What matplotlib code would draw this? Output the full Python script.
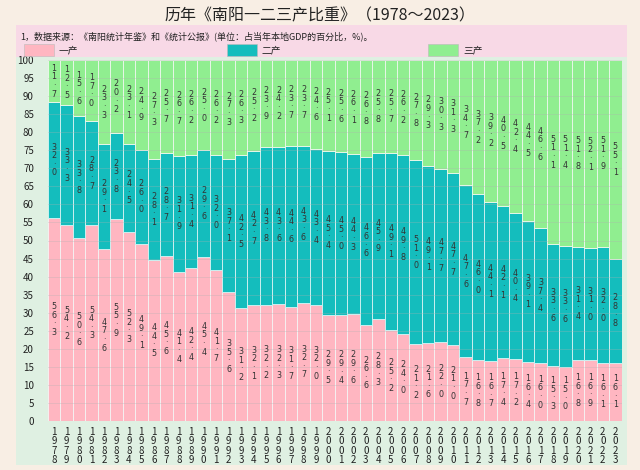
import matplotlib
matplotlib.use("Agg")
import matplotlib.pyplot as plt
from matplotlib.patches import Rectangle
import numpy as np

plt.rcParams['font.family'] = ['Noto Sans CJK SC', 'DejaVu Sans']

years = list(range(1978, 2024))
primary = [56.3, 54.2, 50.6, 54.3, 47.6, 55.9, 52.3, 49.1, 44.5, 45.6,
           41.4, 42.4, 45.4, 41.7, 35.6, 31.2, 32.1, 32.2, 32.3, 31.7,
           32.7, 32.0, 29.5, 29.4, 29.6, 26.6, 28.3, 25.2, 24.0, 21.2,
           21.6, 22.0, 21.0, 17.7, 16.8, 16.7, 17.4, 17.2, 16.4, 16.0,
           15.3, 15.0, 16.8, 16.9, 16.1, 16.1]
secondary = [32.0, 33.3, 33.8, 28.7, 29.1, 23.8, 24.5, 26.0, 28.1, 28.7,
             31.9, 31.4, 29.6, 32.0, 37.1, 42.5, 42.7, 43.8, 43.6, 44.6,
             43.6, 43.4, 45.4, 45.0, 44.3, 46.6, 45.9, 49.1, 49.8, 51.0,
             49.1, 47.7, 47.7, 47.6, 46.0, 44.1, 42.1, 40.4, 39.1, 37.4,
             33.6, 33.6, 31.4, 31.0, 32.0, 28.8]
tertiary = [11.7, 12.5, 15.6, 17.0, 23.3, 20.2, 23.1, 24.9, 27.3, 25.7,
            26.7, 26.2, 25.0, 26.2, 27.3, 26.3, 25.2, 23.9, 24.2, 23.7,
            23.7, 24.6, 25.1, 25.6, 26.1, 26.8, 25.8, 25.7, 26.2, 27.8,
            29.3, 30.3, 31.3, 34.7, 37.2, 39.2, 40.5, 42.4, 44.5, 46.6,
            51.1, 51.4, 51.8, 52.1, 51.9, 55.1]
series_names = ['一产', '二产', '三产']
colors = ['#FFB6C1', '#14BDBD', '#90EE90']

fig = plt.figure(figsize=(6.4, 4.7), dpi=100)
fig.patch.set_facecolor('#F8EEE4')

# panels
fig.add_artist(Rectangle((16/640, 1-465/470), 611/640, (465-55)/470,
                         transform=fig.transFigure, facecolor='#DFF0E2',
                         edgecolor='none', zorder=0))
fig.add_artist(Rectangle((16/640, 1-57/470), 611/640, 32/470,
                         transform=fig.transFigure, facecolor='#F8D9E6',
                         edgecolor='none', zorder=0))

fig.text(0.5, 1-16/470, '历年《南阳一二三产比重》（1978～2023）', ha='center',
         va='center', fontsize=11.5, color='#222222')
fig.text(20/640, 1-36/470,
         '1，数据来源：《南阳统计年鉴》和《统计公报》(单位：占当年本地GDP的百分比，%)。',
         ha='left', va='center', fontsize=6.5, color='#222222')

leg_x = [24, 227, 428]
for lx, name, c in zip(leg_x, series_names, colors):
    fig.add_artist(Rectangle((lx/640, 1-56/470), 30/640, 12/470,
                             transform=fig.transFigure, facecolor=c,
                             edgecolor='#bbbbbb', linewidth=0.4, zorder=1))
    fig.text((lx+35)/640, 1-50/470, name, ha='left', va='center',
             fontsize=7, color='#222222')

ax = fig.add_axes([47.8/640, 1-421/470, 573.7/640, 361/470])
ax.set_facecolor('none')
x = np.arange(len(years))
p = np.array(primary)
s = np.array(secondary)
t = np.array(tertiary)
ax.bar(x, p, width=1.0, color=colors[0], edgecolor='#f4f4f4', linewidth=0.6, zorder=2)
ax.bar(x, s, width=1.0, bottom=p, color=colors[1], edgecolor='#d8f4f4', linewidth=0.6, zorder=2)
ax.bar(x, t, width=1.0, bottom=p+s, color=colors[2], edgecolor='#eef8ee', linewidth=0.6, zorder=2)

ax.set_xlim(-0.5, len(years)-0.5)
ax.set_ylim(0, 100)
ax.set_yticks(np.arange(0, 101, 5))
ax.yaxis.grid(True, color='#b0b0b0', alpha=0.35, linewidth=0.6, zorder=3)
ax.set_axisbelow(False)
ax.tick_params(axis='y', length=0, labelsize=7, colors='#222222', pad=10)
ax.set_xticks(x)
ax.set_xticklabels(['\n'.join(str(y)) for y in years], fontsize=7,
                   linespacing=0.95, color='#222222')
ax.tick_params(axis='x', length=0, pad=4)
for sp in ax.spines.values():
    sp.set_visible(False)

def vlab(v):
    return '\n'.join(list(f'{v:.1f}'.replace('.', '·')))

for i in range(len(years)):
    mids = [p[i]/2, p[i] + s[i]/2, p[i] + s[i] + t[i]/2]
    for val, m in zip([p[i], s[i], t[i]], mids):
        ax.text(i, m, vlab(val), ha='center', va='center', fontsize=5.8,
                linespacing=0.95, color='#333333', zorder=4,
                family=['DejaVu Sans'])

fig.savefig('out.png', dpi=100, facecolor=fig.get_facecolor())
